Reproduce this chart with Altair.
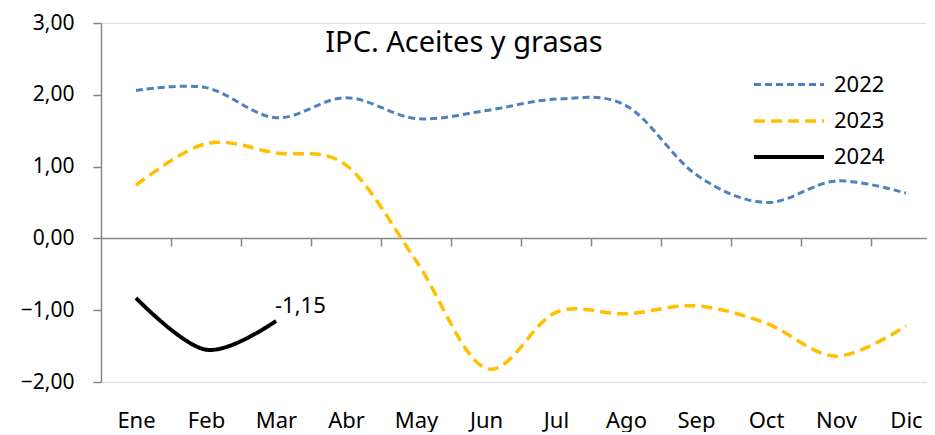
import altair as alt
import pandas as pd

months = ["Ene", "Feb", "Mar", "Abr", "May", "Jun", "Jul", "Ago", "Sep", "Oct", "Nov", "Dic"]
s2022 = [2.06, 2.10, 1.68, 1.96, 1.67, 1.78, 1.94, 1.85, 0.89, 0.50, 0.80, 0.63]
s2023 = [0.74, 1.32, 1.19, 1.02, -0.31, -1.81, -1.03, -1.05, -0.94, -1.18, -1.64, -1.22]
s2024 = [-0.83, -1.55, -1.15]
series_names = ["2022", "2023", "2024"]
colors = ["#4F81BD", "#FFC000", "#000000"]
dashes = [[7, 4], [11, 6], [1, 0]]
widths = [3, 4, 3.5]
title_text = "IPC. Aceites y grasas"
boundaries = [i + 0.5 for i in range(11)]

FONT = "Noto Sans"

rows = []
for name, vals in zip(series_names, [s2022, s2023, s2024]):
    for i, v in enumerate(vals):
        rows.append({"idx": i, "mes": months[i], "valor": v, "serie": name})
df = pd.DataFrame(rows)

xscale = alt.Scale(domain=[-0.5, 11.3], nice=False, zero=False)
yscale = alt.Scale(domain=[-2, 3], nice=False)

label_expr = "[" + ",".join(f"'{m}'" for m in months) + "][datum.value]"

yaxis = alt.Axis(values=[-2, -1, 0, 1, 2, 3],
                 labelExpr="replace(format(datum.value, '.2f'), '.', ',')",
                 grid=False, domainColor="#868686", tickColor="#868686",
                 tickSize=8, domainWidth=1.5, tickWidth=1.5,
                 labelFontSize=21, labelFont=FONT, labelColor="#000000",
                 labelPadding=19)


def legend():
    return alt.Legend(title=None, orient="none", legendX=651, legendY=46,
                      symbolType="M-1,0H4", symbolSize=784,
                      labelFontSize=22, labelFont=FONT, labelColor="#000000",
                      rowPadding=9, labelOffset=50)


lines = alt.Chart(df).mark_line(interpolate="cardinal").encode(
    x=alt.X("idx:Q", scale=xscale, title=None,
            axis=alt.Axis(values=list(range(12)), labelExpr=label_expr, ticks=False,
                          domain=False, grid=False, labelFontSize=22, labelFont=FONT,
                          labelColor="#000000", labelPadding=28, orient="bottom")),
    y=alt.Y("valor:Q", scale=yscale, title=None, axis=yaxis),
    color=alt.Color("serie:N", scale=alt.Scale(domain=series_names, range=colors),
                    legend=legend()),
    strokeDash=alt.StrokeDash("serie:N", scale=alt.Scale(domain=series_names, range=dashes),
                              legend=legend()),
    strokeWidth=alt.StrokeWidth("serie:N", scale=alt.Scale(domain=series_names, range=widths),
                                legend=legend()),
)

last = pd.DataFrame([{"idx": len(s2024) - 1, "valor": s2024[-1],
                      "txt": f"{s2024[-1]:.2f}".replace(".", ",")}])
label = alt.Chart(last).mark_text(align="left", baseline="middle", dx=-1, dy=-15,
                                  fontSize=22, font=FONT, color="#000000").encode(
    x=alt.X("idx:Q", scale=xscale, axis=None),
    y=alt.Y("valor:Q", scale=yscale, title=None, axis=yaxis),
    text="txt:N",
)

bdf = pd.DataFrame({"b": boundaries})
ticks_axis = alt.Chart(bdf).mark_rule(opacity=0).encode(
    x=alt.X("b:Q", scale=xscale, title=None,
            axis=alt.Axis(values=boundaries, labels=False, grid=False, orient="bottom",
                          offset=-144, domainColor="#868686", tickColor="#868686",
                          tickSize=8, domainWidth=1.5, tickWidth=1.5)),
    y=alt.value(0),
)

tdf = pd.DataFrame({"t": [title_text]})
title = alt.Chart(tdf).mark_text(align="center", baseline="middle", fontSize=29,
                                 font=FONT, color="#000000").encode(
    x=alt.value(363), y=alt.value(20), text="t:N"
)

chart = alt.layer(ticks_axis, lines, label, title).resolve_scale(x="independent").properties(
    width=826, height=359,
    autosize=alt.AutoSizeParams(type="none"),
    padding={"left": 93, "top": 15, "right": 0, "bottom": 50},
).configure_view(stroke=None).configure(background="white")

chart.save("out.html", embed_options={"renderer": "svg", "actions": False})
